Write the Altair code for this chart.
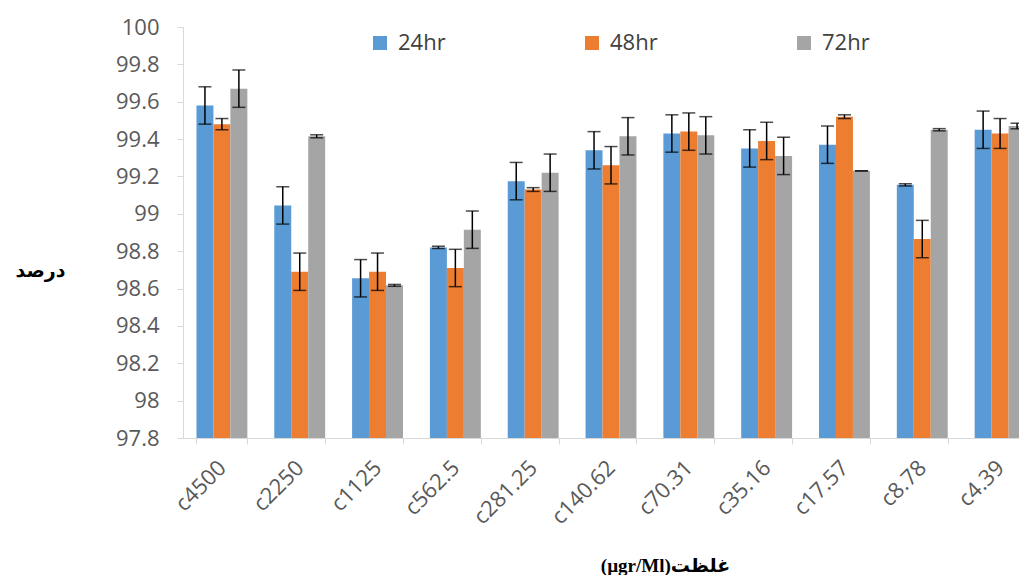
import altair as alt
import pandas as pd

categories = ["c4500", "c2250", "c1125", "c562.5", "c281.25", "c140.62",
              "c70.31", "c35.16", "c17.57", "c8.78", "c4.39"]
series = ["24hr", "48hr", "72hr"]
colors = ["#5B9BD5", "#ED7D31", "#A5A5A5"]

v24 = [99.58, 99.045, 98.655, 98.82, 99.175, 99.34, 99.43, 99.35, 99.37, 99.155, 99.45]
v48 = [99.48, 98.69, 98.69, 98.71, 99.13, 99.26, 99.44, 99.39, 99.52, 98.865, 99.43]
v72 = [99.67, 99.415, 98.617, 98.915, 99.22, 99.415, 99.42, 99.31, 99.23, 99.45, 99.47]
e24 = [0.10, 0.10, 0.10, 0.006, 0.10, 0.10, 0.10, 0.10, 0.10, 0.006, 0.10]
e48 = [0.03, 0.10, 0.10, 0.10, 0.01, 0.10, 0.10, 0.10, 0.01, 0.10, 0.08]
e72 = [0.10, 0.008, 0.005, 0.10, 0.10, 0.10, 0.10, 0.10, 0.0, 0.006, 0.015]

y_ticks = [97.8, 98.0, 98.2, 98.4, 98.6, 98.8, 99.0, 99.2, 99.4, 99.6, 99.8, 100.0]

rows = []
for s, vals, errs in zip(series, [v24, v48, v72], [e24, e48, e72]):
    for c, v, e in zip(categories, vals, errs):
        rows.append({"cat": c, "series": s, "v": v, "lo": v - e, "hi": v + e})
df = pd.DataFrame(rows)

xscale = alt.Scale(paddingInner=0.346, paddingOuter=0.173, range=[0, 856])
xaxis = alt.Axis(
    title="(µgr/Ml)غلظت", labelAngle=-45, labelAlign="right", labelBaseline="middle",
    labelFontSize=22, labelColor="#595959", labelFont="Open Sans", labelPadding=20,
    labelOverlap=False,
    tickBand="extent", tickSize=6, tickColor="#D9D9D9", domainColor="#D9D9D9",
    titleFont="Liberation Serif, DejaVu Sans", titleFontWeight="bold", titleFontSize=19,
    titleColor="#000000", titleX=482, titleY=127, titleAlign="center",
    titleBaseline="middle", titleAnchor="start",
)
x = alt.X("cat:N", sort=categories, scale=xscale, axis=xaxis)
xo = alt.XOffset("series:N", sort=series, scale=alt.Scale(paddingInner=0, paddingOuter=0))
yscale = alt.Scale(domain=[97.8, 100], zero=False, nice=False)
yaxis = alt.Axis(
    values=y_ticks, format="~g", title="درصد", titleAngle=0,
    titleX=-143, titleY=243, titleAlign="center", titleBaseline="middle",
    titleFont="DejaVu Sans", titleFontWeight="bold", titleFontSize=19, titleColor="#000000",
    labelFontSize=22, labelColor="#595959", labelFont="Open Sans", labelPadding=18,
    labelOverlap=False, labelSeparation=0,
    tickSize=6, tickColor="#D9D9D9", domainColor="#D9D9D9", grid=False,
)

base = alt.Chart(df)

bars = base.mark_bar().encode(
    x=x, xOffset=xo,
    y=alt.Y("v:Q", scale=yscale, axis=yaxis),
    y2=alt.datum(97.8),
    color=alt.Color(
        "series:N", sort=series, scale=alt.Scale(domain=series, range=colors),
        legend=alt.Legend(
            title=None, orient="none", legendX=186, legendY=5, direction="horizontal",
            symbolType="square", symbolSize=196, symbolStrokeWidth=0,
            labelFontSize=22, labelFont="Open Sans", labelColor="#404040",
            columnPadding=135, labelOffset=7,
        ),
    ),
)

rules = base.mark_rule(color="#000000", strokeWidth=1.5).encode(
    x=x, xOffset=xo, y=alt.Y("lo:Q", scale=yscale, axis=yaxis), y2="hi:Q"
)
caps_hi = base.mark_tick(color="#000000", thickness=1.5, size=13, orient="horizontal").encode(
    x=x, xOffset=xo, y=alt.Y("hi:Q", scale=yscale, axis=yaxis)
)
caps_lo = base.mark_tick(color="#000000", thickness=1.5, size=13, orient="horizontal").encode(
    x=x, xOffset=xo, y=alt.Y("lo:Q", scale=yscale, axis=yaxis)
)

chart = alt.layer(bars, rules, caps_hi, caps_lo).properties(
    width=836, height=411,
    autosize="none",
    padding={"left": 175, "top": 19, "right": 0, "bottom": 137},
).configure_view(stroke=None).configure_axis(labelFlush=False).configure_axisY(labelOverlap=False)

chart.save("out.html", embed_options={"renderer": "svg", "actions": False})
